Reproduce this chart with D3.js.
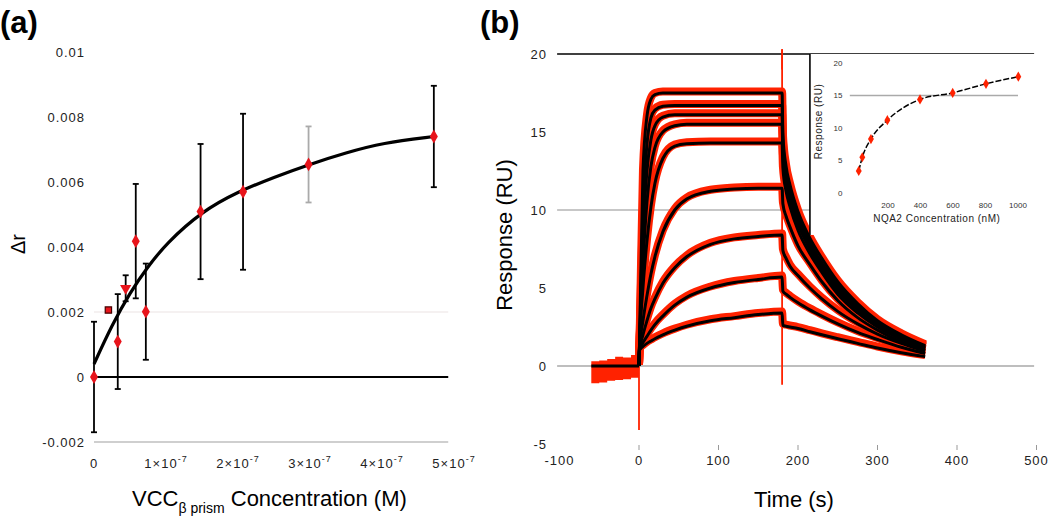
<!DOCTYPE html>
<html><head><meta charset="utf-8">
<script src="https://cdn.jsdelivr.net/npm/d3@7"></script>
<style>body{margin:0;background:#fff}svg{display:block;font-family:"Liberation Sans",Arial,sans-serif}</style>
</head><body><svg id="c" width="1050" height="523"></svg>
<script>
// ---------- Panel (a) data ----------
const concA = [0, 2.0e-8, 3.3e-8, 4.4e-8, 5.8e-8, 7.2e-8, 1.48e-7, 2.07e-7, 2.98e-7, 4.72e-7];
const deltaR = [0, 0.00206, 0.00109, 0.00273, 0.00418, 0.00201, 0.00509, 0.0057, 0.00654, 0.0074];
const deltaErr = [0.0017, 0, 0.00146, 0.0004, 0.00176, 0.00148, 0.00208, 0.0024, 0.00117, 0.00156];
const fitConcA = [0, 0.25e-7, 0.5e-7, 0.75e-7, 1e-7, 1.5e-7, 2e-7, 2.5e-7, 3e-7, 3.5e-7, 4e-7, 4.72e-7];
const fitDeltaR = [0.0004, 0.0016, 0.0026, 0.0034, 0.0041, 0.0051, 0.0057, 0.00615, 0.00655, 0.0069, 0.0072, 0.0074];
const yTicksA = [-0.002, 0, 0.002, 0.004, 0.006, 0.008, 0.01];
const yTickLabelsA = ["-0.002", "0", "0.002", "0.004", "0.006", "0.008", "0.01"];
const xTicksA = [0, 1e-7, 2e-7, 3e-7, 4e-7, 5e-7];
const xTickMantA = ["0", "1", "2", "3", "4", "5"];

// ---------- Panel (b) data ----------
const timeB = [0, 0.5, 5, 10, 15, 20, 30, 45, 60, 90, 120, 150, 180, 181, 185, 190, 200, 215, 230, 250, 275, 300, 330, 360];
const resp1 = [0, 1.0, 12.5, 16.0, 17.1, 17.4, 17.5, 17.5, 17.5, 17.5, 17.5, 17.5, 17.5, 14.8, 12.8, 11.6, 9.9, 8.2, 6.9, 5.4, 4.0, 2.9, 2.0, 1.3];
const resp2 = [0, 1.0, 10.0, 14.2, 15.9, 16.4, 16.65, 16.7, 16.7, 16.7, 16.7, 16.7, 16.7, 14.3, 12.4, 11.2, 9.6, 7.9, 6.6, 5.2, 3.8, 2.8, 1.9, 1.25];
const resp3 = [0, 1.0, 8.5, 12.5, 14.5, 15.4, 15.95, 16.1, 16.1, 16.1, 16.1, 16.1, 16.1, 13.9, 12.0, 10.9, 9.3, 7.7, 6.4, 5.0, 3.7, 2.7, 1.85, 1.2];
const resp4 = [0, 1.0, 6.5, 10.5, 12.8, 14.0, 15.0, 15.4, 15.5, 15.5, 15.5, 15.5, 15.5, 13.5, 11.7, 10.6, 9.1, 7.5, 6.2, 4.8, 3.6, 2.6, 1.8, 1.15];
const resp5 = [0, 1.0, 5.0, 8.0, 10.2, 11.7, 13.3, 14.1, 14.25, 14.3, 14.3, 14.3, 14.3, 12.7, 11.2, 10.2, 8.7, 7.2, 6.0, 4.6, 3.4, 2.5, 1.7, 1.1];
const resp6 = [0, 1.0, 2.9, 4.5, 5.9, 7.0, 8.6, 10.0, 10.7, 11.2, 11.35, 11.4, 11.4, 10.4, 9.6, 8.9, 7.7, 6.5, 5.4, 4.2, 3.1, 2.3, 1.55, 1.0];
const resp7 = [0, 1.0, 2.0, 2.9, 3.7, 4.3, 5.3, 6.3, 7.0, 7.8, 8.15, 8.3, 8.4, 7.4, 6.9, 6.4, 5.8, 5.0, 4.3, 3.5, 2.7, 2.05, 1.45, 0.95];
const resp8 = [0, 1.0, 1.5, 1.9, 2.3, 2.65, 3.2, 3.9, 4.4, 5.0, 5.35, 5.55, 5.7, 4.8, 4.6, 4.4, 4.05, 3.6, 3.2, 2.7, 2.15, 1.7, 1.2, 0.8];
const resp9 = [0, 1.0, 1.25, 1.45, 1.6, 1.75, 2.0, 2.3, 2.55, 2.9, 3.1, 3.3, 3.4, 2.6, 2.55, 2.5, 2.4, 2.2, 2.0, 1.75, 1.45, 1.15, 0.85, 0.6];
const baseTime = [-60, -50, -40, -30, -20, -10, 0];
const baseLow = [-1.1, -1.05, -0.95, -0.9, -0.85, -0.75, -0.7];
const baseHigh = [0.3, 0.35, 0.45, 0.6, 0.55, 0.7, 0.7];
const spikeTime = [0, 180];
const spikeTop = [8.5, 20.3];
const spikeBottom = [-4.1, -1.2];
const xTicksB = [-100, 0, 100, 200, 300, 400, 500];
const yTicksB = [-5, 0, 5, 10, 15, 20];

// ---------- Inset data ----------
const insetConc = [20, 42, 95, 196, 397, 598, 803, 1002];
const insetResp = [3.4, 5.5, 8.3, 11.2, 14.4, 15.4, 16.8, 17.9];
const insetXTicks = [200, 400, 600, 800, 1000];
const insetYTicks = [0, 5, 10, 15, 20];

const svg = d3.select("#c");
const RED_A = "#e8141b", RED_B = "#ff2200";

// ================= Panel (a) =================
const xA = d3.scaleLinear().domain([0, 5e-7]).range([94, 454]);
const yA = d3.scaleLinear().domain([-0.002, 0.01]).range([442, 52]);
const gA = svg.append("g");

gA.append("line").attr("x1", xA(0)).attr("x2", xA(4.92e-7)).attr("y1", yA(0.002)).attr("y2", yA(0.002))
  .attr("stroke", "#f2ecec").attr("stroke-width", 1.5);
gA.append("line").attr("x1", xA(0)).attr("x2", xA(4.92e-7)).attr("y1", yA(-0.002)).attr("y2", yA(-0.002))
  .attr("stroke", "#cfcfcf").attr("stroke-width", 2);
gA.append("line").attr("x1", xA(0)).attr("x2", xA(4.92e-7)).attr("y1", yA(0)).attr("y2", yA(0))
  .attr("stroke", "#000").attr("stroke-width", 2);

gA.selectAll("text.yt").data(yTicksA).join("text").attr("class", "yt")
  .attr("x", 85).attr("y", d => yA(d)).attr("dy", "0.35em").attr("text-anchor", "end")
  .attr("font-size", 13).attr("letter-spacing", 1).attr("fill", "#222")
  .text((d, i) => yTickLabelsA[i]);

const xtA = gA.selectAll("text.xt").data(xTicksA).join("text").attr("class", "xt")
  .attr("x", d => xA(d)).attr("y", yA(-0.002) + 26).attr("text-anchor", "middle")
  .attr("font-size", 13).attr("letter-spacing", 1).attr("fill", "#222");
xtA.each(function (d, i) {
  const t = d3.select(this);
  if (d === 0) { t.text(xTickMantA[i]); return; }
  t.append("tspan").text(xTickMantA[i] + "×10");
  t.append("tspan").attr("font-size", 9).attr("dy", -6).text("-7");
});

// error bars
const errData = concA.map((c, i) => ({ c, v: deltaR[i], e: deltaErr[i], i }));
const eb = gA.selectAll("g.eb").data(errData.filter(d => d.e > 0)).join("g").attr("class", "eb")
  .attr("stroke", d => d.i === 8 ? "#aaa" : "#000").attr("stroke-width", 1.8);
eb.append("line").attr("x1", d => xA(d.c)).attr("x2", d => xA(d.c)).attr("y1", d => yA(d.v - d.e)).attr("y2", d => yA(d.v + d.e));
eb.append("line").attr("x1", d => xA(d.c) - 3).attr("x2", d => xA(d.c) + 3).attr("y1", d => yA(d.v - d.e)).attr("y2", d => yA(d.v - d.e));
eb.append("line").attr("x1", d => xA(d.c) - 3).attr("x2", d => xA(d.c) + 3).attr("y1", d => yA(d.v + d.e)).attr("y2", d => yA(d.v + d.e));

// fit curve
gA.append("path").datum(fitConcA.map((c, i) => [c, fitDeltaR[i]]))
  .attr("d", d3.line().x(d => xA(d[0])).y(d => yA(d[1])).curve(d3.curveBasis))
  .attr("fill", "none").attr("stroke", "#000").attr("stroke-width", 3.2);

// markers
gA.selectAll("path.mk").data(errData).join("path").attr("class", "mk")
  .attr("transform", d => `translate(${xA(d.c)},${yA(d.v)})` + (d.i === 3 ? " rotate(180)" : ""))
  .attr("d", d => d3.symbol().type(d.i === 3 ? d3.symbolTriangle : (d.i === 1 ? d3.symbolSquare : d3.symbolDiamond)).size(d.i === 1 ? 40 : 55)())
  .attr("fill", RED_A).attr("stroke", d => d.i === 1 ? "#400" : "none").attr("stroke-width", 1.2);

// titles
gA.append("text").attr("x", 0).attr("y", 33).attr("font-size", 31).attr("font-weight", "bold").text("(a)");
gA.append("text").attr("transform", "translate(25,244) rotate(-90)").attr("text-anchor", "middle")
  .attr("font-size", 20).text("Δr");
const tA = gA.append("text").attr("x", 132).attr("y", 506).attr("font-size", 22);
tA.append("tspan").text("VCC");
tA.append("tspan").attr("font-size", 14).attr("dy", 7).text("β prism");
tA.append("tspan").attr("dy", -7).text(" Concentration (M)");

// ================= Panel (b) =================
const xB = d3.scaleLinear().domain([-100, 500]).range([559.5, 1036.5]);
const yB = d3.scaleLinear().domain([-5, 20]).range([444, 54]);
const gB = svg.append("g");

gB.append("line").attr("x1", xB(-103)).attr("x2", xB(497)).attr("y1", yB(10)).attr("y2", yB(10)).attr("stroke", "#b5b5b5").attr("stroke-width", 1.5);
gB.append("line").attr("x1", xB(-103)).attr("x2", xB(497)).attr("y1", yB(0)).attr("y2", yB(0)).attr("stroke", "#a8a8a8").attr("stroke-width", 1.5);

gB.selectAll("text.yt").data(yTicksB).join("text").attr("class", "yt")
  .attr("x", 547).attr("y", d => yB(d)).attr("dy", "0.35em").attr("text-anchor", "end")
  .attr("font-size", 13).attr("letter-spacing", 1).attr("fill", "#222").text(d => d);
gB.selectAll("line.xtk").data(xTicksB.filter(d => d !== -100)).join("line").attr("class", "xtk")
  .attr("x1", d => xB(d)).attr("x2", d => xB(d)).attr("y1", yB(-5) + 1).attr("y2", yB(-5) + 6)
  .attr("stroke", "#999").attr("stroke-width", 1);
gB.selectAll("text.xt").data(xTicksB).join("text").attr("class", "xt")
  .attr("x", d => xB(d)).attr("y", yB(-5) + 16).attr("dy", "0.35em").attr("text-anchor", "middle")
  .attr("font-size", 13).attr("letter-spacing", 1).attr("fill", "#222").text(d => d);

// baseline noise
gB.append("path").datum(baseTime.map((t, i) => [t, baseLow[i], baseHigh[i]]))
  .attr("d", d3.area().x(d => xB(d[0])).y0(d => yB(d[1])).y1(d => yB(d[2])).curve(d3.curveStepAfter))
  .attr("fill", RED_B);

const curves = [resp1, resp2, resp3, resp4, resp5, resp6, resp7, resp8, resp9];
const lineB = d3.line().x(d => xB(d[0])).y(d => yB(d[1])).curve(d3.curveMonotoneX);
const curveData = curves.map(r => timeB.map((t, i) => [t, r[i]]));

gB.selectAll("path.red").data(curveData).join("path").attr("class", "red")
  .attr("d", lineB).attr("fill", "none").attr("stroke", RED_B).attr("stroke-width", 8)
  .attr("stroke-linejoin", "round").attr("transform", "translate(0,-1.5)");

gB.selectAll("line.spk").data(spikeTime).join("line").attr("class", "spk")
  .attr("x1", d => xB(d)).attr("x2", d => xB(d))
  .attr("y1", (d, i) => yB(spikeTop[i])).attr("y2", (d, i) => yB(spikeBottom[i]))
  .attr("stroke", RED_B).attr("stroke-width", 1.8);

gB.append("line").attr("x1", xB(baseTime[0])).attr("x2", xB(0)).attr("y1", yB(0)).attr("y2", yB(0))
  .attr("stroke", "#000").attr("stroke-width", 3);
gB.selectAll("path.blk").data(curveData).join("path").attr("class", "blk")
  .attr("d", lineB).attr("fill", "none").attr("stroke", "#000").attr("stroke-width", 3);

// ---- inset ----
const xI = d3.scaleLinear().domain([0, 1000]).range([855.5, 1018]);
const yI = d3.scaleLinear().domain([0, 20]).range([193, 63]);
const gI = svg.append("g");
gI.append("rect").attr("x", xB(215)).attr("y", yB(20)).attr("width", xB(505) - xB(215)).attr("height", yB(8.4) - yB(20)).attr("fill", "#fff");
gI.append("line").attr("x1", xI(-35)).attr("x2", xI(1000)).attr("y1", yI(15)).attr("y2", yI(15)).attr("stroke", "#aaa").attr("stroke-width", 1.5);
gI.append("line").attr("x1", xB(215)).attr("x2", xB(215)).attr("y1", yB(20)).attr("y2", yB(8.4)).attr("stroke", "#000").attr("stroke-width", 1.6);
gI.selectAll("text.iy").data(insetYTicks).join("text").attr("class", "iy")
  .attr("x", xI(-80)).attr("y", d => yI(d)).attr("dy", "0.35em").attr("text-anchor", "end")
  .attr("font-size", 8).attr("fill", "#333").text(d => d);
gI.selectAll("text.ix").data(insetXTicks).join("text").attr("class", "ix")
  .attr("x", d => xI(d)).attr("y", yI(0) + 12).attr("dy", "0.35em").attr("text-anchor", "middle")
  .attr("font-size", 8).attr("fill", "#333").text(d => d);
gI.append("path").datum(insetConc.map((c, i) => [c, insetResp[i]]))
  .attr("d", d3.line().x(d => xI(d[0])).y(d => yI(d[1])).curve(d3.curveMonotoneX))
  .attr("fill", "none").attr("stroke", "#000").attr("stroke-width", 1.5).attr("stroke-dasharray", "6,2");
gI.selectAll("path.imk").data(insetConc.map((c, i) => [c, insetResp[i]])).join("path").attr("class", "imk")
  .attr("transform", d => `translate(${xI(d[0])},${yI(d[1])})`)
  .attr("d", d3.symbol().type(d3.symbolDiamond).size(30)()).attr("fill", RED_B);
gI.append("text").attr("x", xI(500)).attr("y", yI(0) + 29).attr("text-anchor", "middle")
  .attr("font-size", 10).attr("letter-spacing", 0.5).attr("fill", "#222").text("NQA2 Concentration (nM)");
gI.append("text").attr("transform", `translate(${xI(-205)},${yI(11)}) rotate(-90)`).attr("text-anchor", "middle")
  .attr("font-size", 10).attr("letter-spacing", 0.5).attr("fill", "#222").text("Response (RU)");

// top line of panel (b)
gB.append("line").attr("x1", xB(-103)).attr("x2", xB(497)).attr("y1", yB(20)).attr("y2", yB(20)).attr("stroke", "#000").attr("stroke-width", 1.6);
svg.append("line").attr("x1", xB(180)).attr("x2", xB(180)).attr("y1", yB(spikeTop[1])).attr("y2", yB(19)).attr("stroke", RED_B).attr("stroke-width", 1.8);

// titles
svg.append("text").attr("x", 480).attr("y", 33).attr("font-size", 31).attr("font-weight", "bold").text("(b)");
svg.append("text").attr("transform", "translate(512,235) rotate(-90)").attr("text-anchor", "middle")
  .attr("font-size", 22).text("Response (RU)");
svg.append("text").attr("x", xB(195)).attr("y", 507).attr("text-anchor", "middle").attr("font-size", 22).text("Time (s)");
</script></body></html>
